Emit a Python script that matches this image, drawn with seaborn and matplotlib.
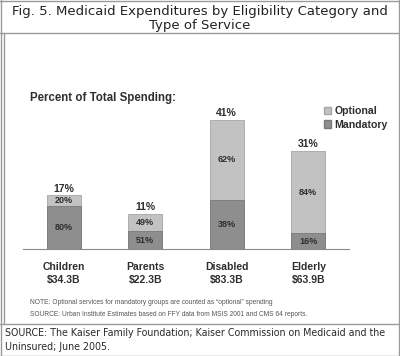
import matplotlib
matplotlib.use("Agg")
import matplotlib.pyplot as plt
import seaborn as sns
import pandas as pd
from matplotlib.patches import Patch
from matplotlib.lines import Line2D

categories = ["Children", "Parents", "Disabled", "Elderly"]
spending = ["$34.3B", "$22.3B", "$83.3B", "$63.9B"]
share_total = [17, 11, 41, 31]
mandatory_pct = [80, 51, 38, 16]
optional_pct = [20, 49, 62, 84]

c_opt = "#c2c2c2"
c_man = "#8e8e8e"
c_txt = "#2e2e2e"
c_border = "#9a9a9a"

sns.set_theme(style="white")
plt.rcParams['font.family'] = ['Liberation Sans', 'DejaVu Sans']

df = pd.DataFrame({
    "cat": categories,
    "total": share_total,
    "mand": [t * m / 100 for t, m in zip(share_total, mandatory_pct)],
})

fig = plt.figure(figsize=(4.0, 3.56), dpi=100)
W, H = 400, 356

def fx(px):
    return px / W

def fy(py):
    return 1 - py / H

ax = fig.add_axes([fx(23), fy(249), fx(349) - fx(23), 45 * 3.15 / H])

sns.barplot(data=df, x="cat", y="total", color=c_opt, width=0.42, ax=ax,
            edgecolor="#a5a5a5", linewidth=0.6, saturation=1)
sns.barplot(data=df, x="cat", y="mand", color=c_man, width=0.42, ax=ax,
            edgecolor="#7a7a7a", linewidth=0.6, saturation=1)

ax.set_xlim(-0.5, 3.5)
ax.set_ylim(0, 45)
for s in ["top", "right", "left"]:
    ax.spines[s].set_visible(False)
ax.spines["bottom"].set_color("#8a8a8a")
ax.spines["bottom"].set_linewidth(0.8)
ax.set_yticks([])
ax.set_xlabel("")
ax.set_ylabel("")
ax.set_xticks(range(len(categories)))
ax.set_xticklabels([f"{c}\n{s}" for c, s in zip(categories, spending)],
                   fontsize=7.5, fontweight="bold", color=c_txt, linespacing=1.5)
ax.tick_params(axis="x", which="major", length=0, pad=9)
ax.set_xticks([i - 0.5 for i in range(len(categories) + 1)], minor=True)
ax.tick_params(axis="x", which="minor", length=4, width=0.8, color="#8a8a8a", direction="out")

for i, (t, m, o) in enumerate(zip(share_total, mandatory_pct, optional_pct)):
    mh = t * m / 100
    ax.text(i, t + 0.6, f"{t}%", ha="center", va="bottom", fontsize=7.5,
            fontweight="bold", color=c_txt)
    ax.text(i, mh / 2, f"{m}%", ha="center", va="center", fontsize=6.5,
            fontweight="bold", color=c_txt)
    ax.text(i, mh + (t - mh) / 2, f"{o}%", ha="center", va="center", fontsize=6.5,
            fontweight="bold", color=c_txt)

fig.text(fx(30), fy(98), "Percent of Total Spending:", fontsize=8.3, fontweight="bold",
         color=c_txt, ha="left", va="center")

handles = [Patch(facecolor=c_opt, edgecolor="#a5a5a5", label="Optional"),
           Patch(facecolor=c_man, edgecolor="#7a7a7a", label="Mandatory")]
leg = fig.legend(handles=handles, loc="upper left", bbox_to_anchor=(fx(324), fy(106)),
                 frameon=False, fontsize=7.6, handlelength=0.65, handleheight=0.65,
                 handletextpad=0.35, labelspacing=0.35, borderpad=0, borderaxespad=0)
for t in leg.get_texts():
    t.set_fontweight("bold")
    t.set_color(c_txt)

fig.text(fx(30), fy(302), "NOTE: Optional services for mandatory groups are counted as \u201coptional\u201d spending",
         fontsize=4.8, color="#555555", ha="left", va="center")
fig.text(fx(30), fy(315), "SOURCE: Urban Institute Estimates based on FFY data from MSIS 2001 and CMS 64 reports.",
         fontsize=4.8, color="#555555", ha="left", va="center")

fig.text(0.5, fy(11), "Fig. 5. Medicaid Expenditures by Eligibility Category and",
         fontsize=9.5, color="#222222", ha="center", va="center", family=["DejaVu Sans"])
fig.text(0.5, fy(26), "Type of Service",
         fontsize=9.5, color="#222222", ha="center", va="center", family=["DejaVu Sans"])

fig.text(fx(5), fy(333), "SOURCE: The Kaiser Family Foundation; Kaiser Commission on Medicaid and the",
         fontsize=6.85, color="#2a2a2a", ha="left", va="center", family=["DejaVu Sans"])
fig.text(fx(5), fy(347), "Uninsured; June 2005.",
         fontsize=6.85, color="#2a2a2a", ha="left", va="center", family=["DejaVu Sans"])

# frame lines
lines = [
    ((fx(0.5), fx(0.5)), (0, 1)),
    ((fx(3.5), fx(3.5)), (fy(33), fy(324))),
    ((fx(398.5), fx(398.5)), (0, 1)),
    ((0, 1), (fy(0.5), fy(0.5))),
    ((0, 1), (fy(355.5), fy(355.5))),
    ((0, 1), (fy(33), fy(33))),
    ((0, 1), (fy(324), fy(324))),
]
for xs, ys in lines:
    fig.add_artist(Line2D(xs, ys, color=c_border, linewidth=1.0, transform=fig.transFigure))

fig.savefig("out.png", dpi=100, facecolor="white")
